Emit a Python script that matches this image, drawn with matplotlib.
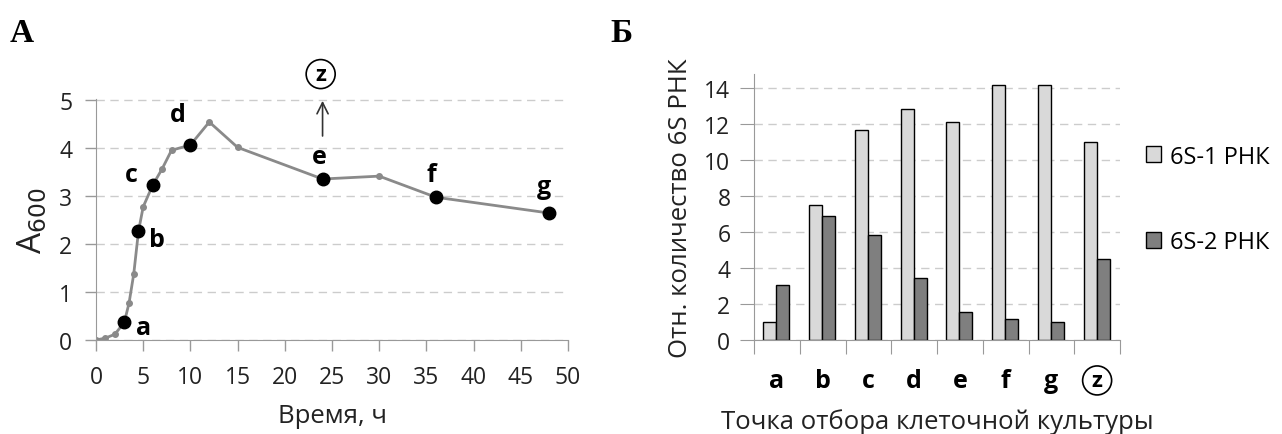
import matplotlib
matplotlib.use('Agg')
import matplotlib.pyplot as plt
import numpy as np
from matplotlib.patches import Patch

plt.rcParams['font.family'] = ['Open Sans', 'DejaVu Sans']

# Panel A: growth curve
time_h = [0, 1, 2, 3, 3.5, 4, 4.5, 5, 6, 7, 8, 10, 12, 15, 24, 30, 36, 48]
a600 = [0.0, 0.04, 0.12, 0.37, 0.77, 1.38, 2.27, 2.78, 3.23, 3.57, 3.96, 4.07, 4.55, 4.02, 3.36, 3.42, 2.98, 2.65]

sample_names = ['a', 'b', 'c', 'd', 'e', 'f', 'g']
sample_time = [3, 4.5, 6, 10, 24, 36, 48]
sample_a600 = [0.37, 2.27, 3.23, 4.07, 3.36, 2.98, 2.65]
label_pos = [(5.0, 0.27), (6.5, 2.1), (3.7, 3.45), (8.7, 4.7), (23.7, 3.82), (35.5, 3.45), (47.4, 3.2)]

# Panel B: 6S RNA levels
points = ['a', 'b', 'c', 'd', 'e', 'f', 'g', 'z']
rna1 = [1.0, 7.5, 11.7, 12.85, 12.15, 14.2, 14.2, 11.0]
rna2 = [3.05, 6.9, 5.85, 3.45, 1.55, 1.15, 1.0, 4.5]

fig = plt.figure(figsize=(12.82, 4.35), dpi=100)

# ---- A ----
ax1 = fig.add_axes([96 / 1282, 1 - 341 / 435, (568 - 96) / 1282, (341 - 100) / 435])
ax1.plot(time_h, a600, color='#8a8a8a', lw=2, marker='o', ms=4, zorder=2)
ax1.plot(sample_time, sample_a600, 'o', color='black', ms=9, zorder=3)
for name, (tx, ty) in zip(sample_names, label_pos):
    ax1.text(tx, ty, name, fontsize=18, fontweight='bold', ha='center', va='center')
ax1.annotate('', xy=(24, 5.05), xytext=(24, 4.2), annotation_clip=False,
             arrowprops=dict(arrowstyle='->', color='#333333', lw=1.2, mutation_scale=20))
ax1.text(23.8, 5.55, 'z', fontsize=16, fontweight='bold', ha='center', va='center',
         bbox=dict(boxstyle='circle,pad=0.18', fc='white', ec='black', lw=1.2), clip_on=False)

ax1.set_xlim(0, 50)
ax1.set_ylim(0, 5.03)
ax1.set_xticks(range(0, 51, 5))
ax1.set_yticks(range(0, 6))
ax1.yaxis.grid(True, ls=(0, (6, 4)), color='#cccccc', lw=1)
ax1.set_axisbelow(True)
for s in ['top', 'right']:
    ax1.spines[s].set_visible(False)
for s in ['left', 'bottom']:
    ax1.spines[s].set_color('#999999')
ax1.tick_params(axis='both', labelsize=16.5, color='#999999', length=8, width=1,
                labelcolor='#222222')
ax1.tick_params(axis='x', pad=10)
ax1.tick_params(axis='y', pad=9)
ax1.set_xlabel('Время, ч', fontsize=18.5, color='#222222', labelpad=10)
ax1.set_ylabel('A$_{600}$', fontsize=24, color='#222222', labelpad=7)

fig.text(10 / 1282, 1 - 33 / 435, 'А', fontsize=24, fontweight='bold',
         family='Liberation Serif', va='center', ha='left')
fig.text(610 / 1282, 1 - 33 / 435, 'Б', fontsize=24, fontweight='bold',
         family='Liberation Serif', va='center', ha='left')

# ---- Б ----
ax2 = fig.add_axes([754 / 1282, 1 - 341 / 435, (1120 - 754) / 1282, (341 - 75) / 435])
x = np.arange(len(points))
w = 0.285
ax2.bar(x - 0.155, rna1, width=w, color='#d9d9d9', edgecolor='black', lw=1, zorder=2)
ax2.bar(x + 0.13, rna2, width=w, color='#7f7f7f', edgecolor='black', lw=1, zorder=2)
ax2.set_xlim(-0.5, len(points) - 0.5)
ax2.set_ylim(0, 14.8)
ax2.set_yticks(range(0, 15, 2))
ax2.yaxis.grid(True, ls=(0, (6, 4)), color='#cccccc', lw=1)
ax2.set_axisbelow(True)
ax2.set_xticks(np.arange(-0.5, len(points), 1.0))
ax2.set_xticklabels([])
ax2.tick_params(axis='x', length=10, color='#999999')
ax2.tick_params(axis='y', labelsize=16.5, color='#999999', length=10, pad=7,
                labelcolor='#222222')
for s in ['top', 'right']:
    ax2.spines[s].set_visible(False)
for s in ['left', 'bottom']:
    ax2.spines[s].set_color('#999999')
for i, p in enumerate(points):
    if p == 'z':
        ax2.text(i, -2.25, p, fontsize=16, fontweight='bold', ha='center', va='center',
                 bbox=dict(boxstyle='circle,pad=0.18', fc='white', ec='black', lw=1.2))
    else:
        ax2.text(i, -2.25, p, fontsize=18, fontweight='bold', ha='center', va='center')
ax2.set_ylabel('Отн. количество 6S РНК', fontsize=18.5, color='#222222', labelpad=8)
ax2.text(3.5, -4.5, 'Точка отбора клеточной культуры', fontsize=18.5, color='#222222',
         ha='center', va='center')

handles = [Patch(fc='#d9d9d9', ec='black', lw=1), Patch(fc='#7f7f7f', ec='black', lw=1)]
ax2.legend(handles, ['6S-1 РНК', '6S-2 РНК'], loc='upper left',
           bbox_to_anchor=(1.045, 0.77), frameon=False, fontsize=17,
           labelspacing=2.6, handlelength=0.65, handleheight=0.65, handletextpad=0.35,
           borderaxespad=0)

fig.savefig('out.png', dpi=100)
